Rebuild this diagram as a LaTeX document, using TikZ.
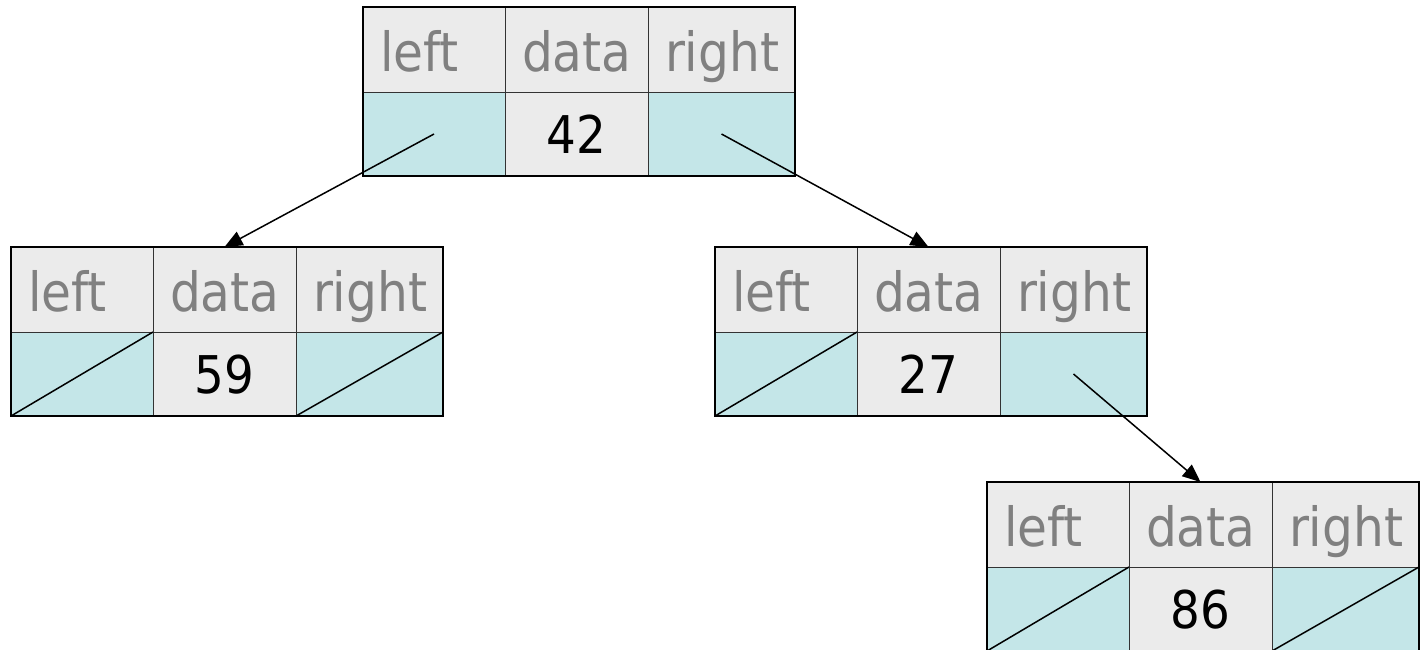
\documentclass[tikz,border=0pt]{standalone}
\usepackage{fontspec}
\setmainfont{DejaVu Sans Condensed}
\usetikzlibrary{positioning,arrows.meta}

\definecolor{hdrgray}{HTML}{EBEBEB}
\definecolor{ptrcyan}{HTML}{C4E6E8}
\definecolor{txtgray}{HTML}{808080}

\tikzset{
  cell/.style={draw=black!80, line width=1pt, inner sep=0pt, outer sep=0pt},
  hdr/.style={cell, fill=hdrgray, text=txtgray, minimum height=85pt,
    text width=#1, inner xsep=17pt, align=left,
    font=\fontsize{54}{60}\selectfont, text height=44pt, text depth=0pt},
  ptr/.style={cell, fill=ptrcyan, minimum height=84pt, minimum width=#1},
  val/.style={cell, fill=hdrgray, minimum height=84pt, minimum width=143pt,
    font=\fontsize{52}{60}\selectfont, text height=38pt, text depth=0pt},
  frame/.style={draw=black, line width=2.8pt},
  link/.style={draw=black, line width=1.5pt, -{Triangle[length=18pt,width=15pt]}},
  nil/.style={draw=black, line width=1.5pt}
}

% one tree node: name, top left corner, value
\newcommand{\bstnode}[4]{
  \node[hdr=108pt, anchor=north west] (#1hl) at (#2,#3) {left};
  \node[hdr=109pt, right=0pt of #1hl] (#1hd) {data};
  \node[hdr=113pt, right=0pt of #1hd] (#1hr) {right};
  \node[ptr=142pt, below=0pt of #1hl] (#1l) {};
  \node[val, below=0pt of #1hd] (#1d) {#4};
  \node[ptr=147pt, below=0pt of #1hr] (#1r) {};
  \draw[frame] (#1hl.north west) rectangle (#1r.south east);
}

\begin{document}
\begin{tikzpicture}[x=1pt, y=-1pt]
  \fill[white] (0,0) rectangle (1421,649);
  \useasboundingbox (0,0) rectangle (1421,649);

  \bstnode{n42}{363}{7}{42}
  \bstnode{n59}{11}{247}{59}
  \bstnode{n27}{715}{247}{27}
  \bstnode{n86}{987}{482}{86}

  % empty links
  \foreach \c in {n59l,n59r,n27l,n86l,n86r}
    \draw[nil] (\c.south west) -- (\c.north east);

  \draw[link] (n42l.center) -- (n59hd.north);
  \draw[link] (n42r.center) -- (n27hd.north);
  \draw[link] (n27r.center) -- (n86hd.north);
\end{tikzpicture}
\end{document}
